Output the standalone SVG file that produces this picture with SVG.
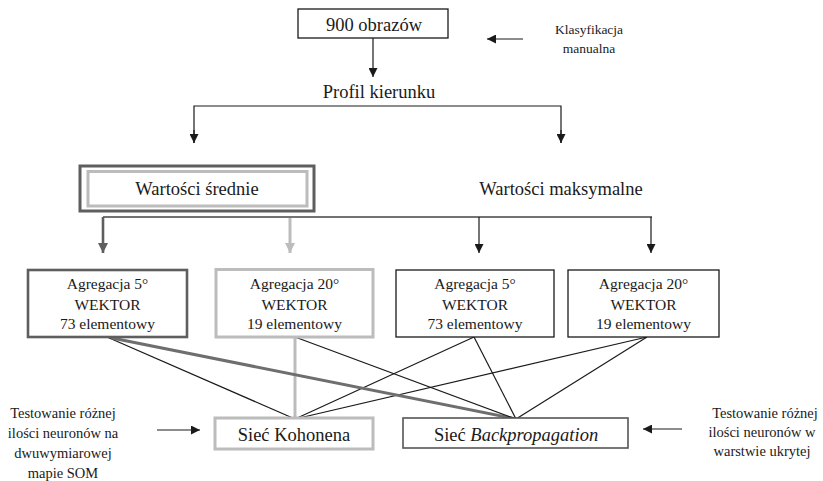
<svg xmlns="http://www.w3.org/2000/svg" width="823" height="481" viewBox="0 0 823 481">
<style>
text{fill:#1a1a1a;font-family:"Liberation Serif","Times New Roman",serif}
.big{font-size:18.5px;text-anchor:middle}
.box{font-size:15.5px;text-anchor:middle}
.side{font-size:14.5px;text-anchor:middle}
.small{font-size:13.5px;text-anchor:middle}
.blk{fill:#fff;stroke:#1a1a1a;stroke-width:1.3}
.dk{fill:#fff;stroke:#5e5e5e;stroke-width:2.6}
.lt{fill:#fff;stroke:#bcbcbc;stroke-width:3}
.c{fill:none;stroke:#1a1a1a;stroke-width:1.2}
</style>
<defs>
<marker id="ab" viewBox="0 0 10 10" refX="10" refY="5" markerWidth="9" markerHeight="9" markerUnits="userSpaceOnUse" orient="auto"><path d="M0,0 L10,5 L0,10 z" fill="#1a1a1a"/></marker>
<marker id="ad" viewBox="0 0 10 10" refX="10" refY="5" markerWidth="10" markerHeight="10" markerUnits="userSpaceOnUse" orient="auto"><path d="M0,0 L10,5 L0,10 z" fill="#5e5e5e"/></marker>
<marker id="al" viewBox="0 0 10 10" refX="10" refY="5" markerWidth="10" markerHeight="10" markerUnits="userSpaceOnUse" orient="auto"><path d="M0,0 L10,5 L0,10 z" fill="#bcbcbc"/></marker>
</defs>

<g id="connectors">
<line class="c" x1="373" y1="38" x2="373" y2="77" marker-end="url(#ab)"/>
<line class="c" x1="523" y1="39" x2="487" y2="39" marker-end="url(#ab)"/>
<polyline class="c" points="194,143 194,106 561,106 561,143"/>
<line class="c" x1="194" y1="130" x2="194" y2="143" marker-end="url(#ab)"/>
<line class="c" x1="561" y1="130" x2="561" y2="143" marker-end="url(#ab)"/>
<line x1="103" y1="217" x2="652" y2="217" stroke="#444" stroke-width="1.6"/>
<line x1="103" y1="217" x2="103" y2="253" stroke="#5e5e5e" stroke-width="2.6" marker-end="url(#ad)"/>
<line x1="290" y1="218" x2="290" y2="253" stroke="#bcbcbc" stroke-width="3" marker-end="url(#al)"/>
<line class="c" x1="479" y1="217" x2="479" y2="253" marker-end="url(#ab)"/>
<line class="c" x1="651" y1="217" x2="651" y2="253" marker-end="url(#ab)"/>
<line x1="295" y1="338" x2="295" y2="418" stroke="#bcbcbc" stroke-width="3"/>
<line class="c" x1="107" y1="337" x2="295" y2="419"/>
<line class="c" x1="474" y1="337" x2="295" y2="419"/>
<line class="c" x1="647" y1="337" x2="295" y2="419"/>
<line x1="112" y1="338" x2="516" y2="419" stroke="#6e6e6e" stroke-width="3"/>
<line class="c" x1="295" y1="337" x2="516" y2="419"/>
<line class="c" x1="474" y1="337" x2="516" y2="419"/>
<line class="c" x1="647" y1="337" x2="516" y2="419"/>
<line class="c" x1="157" y1="430" x2="200" y2="430" marker-end="url(#ab)"/>
<line class="c" x1="682" y1="429" x2="643" y2="429" marker-end="url(#ab)"/>
</g>

<g font-family="Liberation Serif">
<g id="n-obrazow">
<rect class="blk" x="298" y="9" width="150" height="29"/>
<text class="big" x="374" y="31">900 obrazów</text>
</g>
<g id="n-klasyfikacja">
<text class="small" x="589" y="34">Klasyfikacja</text>
<text class="small" x="589" y="53">manualna</text>
</g>
<g id="n-profil">
<text class="big" x="379" y="98">Profil kierunku</text>
</g>
<g id="n-srednie">
<rect x="80" y="166" width="234" height="45" fill="#fff" stroke="#5e5e5e" stroke-width="3"/>
<rect x="88" y="171.5" width="219" height="34.5" fill="#fff" stroke="#bcbcbc" stroke-width="3"/>
<text class="big" x="197" y="195">Wartości średnie</text>
</g>
<g id="n-maksymalne">
<text class="big" x="561" y="195">Wartości maksymalne</text>
</g>
<g id="n-a1">
<rect class="dk" x="28" y="270" width="159" height="67"/>
<text class="box" x="107.5" y="289">Agregacja 5°</text>
<text class="box" x="107.5" y="310">WEKTOR</text>
<text class="box" x="107.5" y="329">73 elementowy</text>
</g>
<g id="n-a2">
<rect class="lt" x="216" y="269.5" width="157" height="67.5"/>
<text class="box" x="294.5" y="289">Agregacja 20°</text>
<text class="box" x="294.5" y="310">WEKTOR</text>
<text class="box" x="294.5" y="329">19 elementowy</text>
</g>
<g id="n-a3">
<rect class="blk" x="396" y="270" width="158" height="67"/>
<text class="box" x="475" y="289">Agregacja 5°</text>
<text class="box" x="475" y="310">WEKTOR</text>
<text class="box" x="475" y="329">73 elementowy</text>
</g>
<g id="n-a4">
<rect class="blk" x="568" y="270" width="151" height="67"/>
<text class="box" x="643.5" y="289">Agregacja 20°</text>
<text class="box" x="643.5" y="310">WEKTOR</text>
<text class="box" x="643.5" y="329">19 elementowy</text>
</g>
<g id="n-kohonen">
<rect class="lt" x="215" y="418" width="158" height="31"/>
<text class="big" x="294" y="441">Sieć Kohonena</text>
</g>
<g id="n-backprop">
<rect x="403" y="418" width="225" height="30" fill="#fff" stroke="#555" stroke-width="1.6"/>
<text class="big" x="516" y="441">Sieć <tspan font-style="italic">Backpropagation</tspan></text>
</g>
<g id="n-test-som">
<text class="side" x="63" y="418">Testowanie różnej</text>
<text class="side" x="63" y="438">ilości neuronów na</text>
<text class="side" x="63" y="458">dwuwymiarowej</text>
<text class="side" x="63" y="478">mapie SOM</text>
</g>
<g id="n-test-bp">
<text class="side" x="765" y="418">Testowanie różnej</text>
<text class="side" x="762" y="437">ilości neuronów w</text>
<text class="side" x="762" y="456">warstwie ukrytej</text>
</g>
</g>
</svg>
